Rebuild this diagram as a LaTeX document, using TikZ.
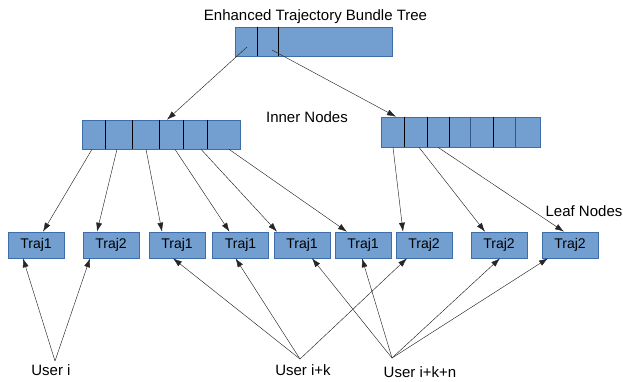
\documentclass[tikz,border=0pt]{standalone}
\usepackage{fontspec}
\setmainfont{Liberation Sans}
\usetikzlibrary{arrows.meta,calc}
\definecolor{boxfill}{RGB}{114,159,207}
\definecolor{boxline}{RGB}{62,110,170}
\begin{document}
\begin{tikzpicture}[x=1pt,y=-1pt,
  box/.style={draw=boxline,fill=boxfill,line width=0.6pt,inner sep=0pt,rectangle},
  leaf/.style={box,minimum width=56pt,minimum height=26pt,font=\fontsize{14}{16}\selectfont},
  lbl/.style={inner sep=0pt,font=\fontsize{15}{18}\selectfont},
  arr/.style={-{Latex[length=9pt,width=6pt]},line width=0.45pt,draw=black!85},
  divk/.style={line width=0.7pt,draw=black},
  divb/.style={line width=0.7pt,draw=boxline!80!black}]
\useasboundingbox (0,0) rectangle (623,381);
% titles
\node[lbl] (title) at (315.5,17) {Enhanced Trajectory Bundle Tree};
\node[lbl] (innerlbl) at (307,117) {Inner Nodes};
\node[lbl] (leaflbl) at (584,211) {Leaf Nodes};
% top box
\node[box,minimum width=157pt,minimum height=29pt] (top) at (313.5,41.5) {};
\foreach \x in {257,278} \draw[divk] (top.north -| \x,0) -- (top.south -| \x,0);
% inner boxes
\node[box,minimum width=158pt,minimum height=29pt] (inL) at (161,134.5) {};
\foreach \x in {105,132,159,183,207} \draw[divk] (inL.north -| \x,0) -- (inL.south -| \x,0);
\node[box,minimum width=159pt,minimum height=30pt] (inR) at (460.5,132) {};
\foreach \x in {404,427,449,493} \draw[divk] (inR.north -| \x,0) -- (inR.south -| \x,0);
\foreach \x in {470,515} \draw[divb] (inR.north -| \x,0) -- (inR.south -| \x,0);
% leaves
\node[leaf] (L1) at (36,245) {Traj1};
\node[leaf] (L2) at (111,245) {Traj2};
\node[leaf] (L3) at (177,245) {Traj1};
\node[leaf] (L4) at (240.5,245) {Traj1};
\node[leaf] (L5) at (302,245) {Traj1};
\node[leaf] (L6) at (363,245) {Traj1};
\node[leaf] (L7) at (424,245) {Traj2};
\node[leaf] (L8) at (499,245) {Traj2};
\node[leaf] (L9) at (570,245) {Traj2};
% users
\node[lbl] (U1) at (51,370) {User i};
\node[lbl] (U2) at (303,370) {User i+k};
\node[lbl] (U3) at (420,372) {User i+k+n};
\coordinate (a1) at (55,361);
\coordinate (a2) at (300,359);
\coordinate (a3) at (392,358);
% start points
\coordinate (t1) at (247,47);
\coordinate (t2) at (272,50);
% top -> inner
\draw[arr] (t1) -- ([xshift=6pt]inL.north);
\draw[arr] (t2) -- ([xshift=-64.5pt]inR.north);
% inner left -> leaves
\draw[arr] ([xshift=-69pt]inL.south) -- ([xshift=7pt]L1.north);
\draw[arr] ([xshift=-44pt]inL.south) -- ([xshift=-14pt]L2.north);
\draw[arr] ([xshift=-15pt]inL.south) -- ([xshift=-15pt]L3.north);
\draw[arr] ([xshift=14pt]inL.south) -- ([xshift=-11pt]L4.north);
\draw[arr] ([xshift=40pt]inL.south) -- ([xshift=-25pt]L5.north);
\draw[arr] ([xshift=68pt]inL.south) -- ([xshift=-16pt]L6.north);
% inner right -> leaves
\draw[arr] ([xshift=-67.5pt]inR.south) -- ([xshift=-21pt]L7.north);
\draw[arr] ([xshift=-41.5pt]inR.south) -- ([xshift=-14pt]L8.north);
\draw[arr] ([xshift=-22.5pt]inR.south) -- ([xshift=-6pt]L9.north);
% users -> leaves
\draw[arr] (a1) -- ([xshift=-13pt]L1.south);
\draw[arr] (a1) -- ([xshift=-21pt]L2.south);
\draw[arr] (a2) -- ([xshift=-4pt]L3.south);
\draw[arr] (a2) -- ([xshift=-5pt]L4.south);
\draw[arr] (a2) -- ([xshift=-17pt]L7.south);
\draw[arr] (a3) -- ([xshift=10pt]L5.south);
\draw[arr] (a3) -- ([xshift=-1pt]L6.south);
\draw[arr] (a3) -- ([xshift=1pt]L8.south);
\draw[arr] (a3) -- ([xshift=-22pt]L9.south);
\end{tikzpicture}
\end{document}
